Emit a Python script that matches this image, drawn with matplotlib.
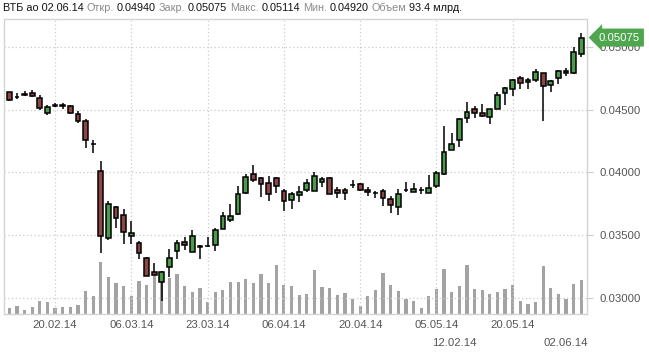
import matplotlib
matplotlib.use("Agg")
import matplotlib.pyplot as plt
from matplotlib.patches import Rectangle

plt.rcParams['font.family'] = ['Liberation Sans', 'DejaVu Sans']

# ---- data ----
opens = [0.04638, 0.04600, 0.04619, 0.04633, 0.04590, 0.04471, 0.04531, 0.04533, 0.04527, 0.04463,
         0.04407, 0.04224, 0.04008, 0.03473, 0.03723, 0.03659, 0.03494, 0.03436, 0.03317, 0.03202,
         0.03122, 0.03247, 0.03370, 0.03442, 0.03367, 0.03408, 0.03411, 0.03423, 0.03550, 0.03622,
         0.03664, 0.03837, 0.03984, 0.03952, 0.03912, 0.03952, 0.03848, 0.03781, 0.03821, 0.03861,
         0.03853, 0.03925, 0.03952, 0.03856, 0.03856, 0.03895, 0.03904, 0.03856, 0.03838, 0.03848,
         0.03785, 0.03726, 0.03860, 0.03845, 0.03860, 0.03837, 0.03893, 0.03989, 0.04180, 0.04255,
         0.04436, 0.04507, 0.04471, 0.04439, 0.04503, 0.04630, 0.04662, 0.04750, 0.04718, 0.04739,
         0.04790, 0.04694, 0.04750, 0.04806, 0.04795, 0.04940]
highs = [0.04643, 0.04630, 0.04651, 0.04654, 0.04614, 0.04535, 0.04555, 0.04550, 0.04535, 0.04487,
         0.04423, 0.04255, 0.04093, 0.03773, 0.03731, 0.03705, 0.03611, 0.03454, 0.03322, 0.03279,
         0.03212, 0.03388, 0.03460, 0.03484, 0.03537, 0.03420, 0.03481, 0.03553, 0.03683, 0.03747,
         0.03891, 0.03986, 0.04058, 0.03960, 0.03968, 0.03960, 0.03864, 0.03840, 0.03888, 0.03949,
         0.04000, 0.03960, 0.03960, 0.03880, 0.03872, 0.03936, 0.03912, 0.03880, 0.03853, 0.03864,
         0.03813, 0.03864, 0.03922, 0.03912, 0.03880, 0.03978, 0.04008, 0.04369, 0.04314, 0.04430,
         0.04559, 0.04527, 0.04545, 0.04506, 0.04641, 0.04678, 0.04742, 0.04766, 0.04750, 0.04822,
         0.04795, 0.04734, 0.04814, 0.04830, 0.04997, 0.05114]
lows = [0.04566, 0.04587, 0.04609, 0.04598, 0.04495, 0.04455, 0.04521, 0.04503, 0.04463, 0.04396,
        0.04196, 0.04156, 0.03359, 0.03462, 0.03558, 0.03428, 0.03426, 0.03311, 0.03172, 0.03183,
        0.02975, 0.03167, 0.03308, 0.03378, 0.03364, 0.03311, 0.03402, 0.03374, 0.03545, 0.03606,
        0.03659, 0.03824, 0.03920, 0.03803, 0.03773, 0.03837, 0.03694, 0.03710, 0.03765, 0.03845,
        0.03853, 0.03880, 0.03824, 0.03797, 0.03781, 0.03877, 0.03848, 0.03813, 0.03797, 0.03734,
        0.03678, 0.03662, 0.03845, 0.03845, 0.03829, 0.03837, 0.03877, 0.03976, 0.04176, 0.04202,
        0.04396, 0.04436, 0.04439, 0.04388, 0.04503, 0.04539, 0.04611, 0.04667, 0.04667, 0.04723,
        0.04407, 0.04638, 0.04704, 0.04766, 0.04787, 0.04920]
closes = [0.04574, 0.04597, 0.04620, 0.04606, 0.04511, 0.04519, 0.04533, 0.04531, 0.04471, 0.04407,
          0.04255, 0.04222, 0.03492, 0.03744, 0.03633, 0.03526, 0.03515, 0.03359, 0.03175, 0.03183,
          0.03202, 0.03314, 0.03434, 0.03423, 0.03489, 0.03406, 0.03413, 0.03537, 0.03649, 0.03649,
          0.03824, 0.03960, 0.03941, 0.03904, 0.03829, 0.03888, 0.03773, 0.03824, 0.03840, 0.03912,
          0.03968, 0.03944, 0.03824, 0.03837, 0.03837, 0.03897, 0.03856, 0.03840, 0.03836, 0.03797,
          0.03742, 0.03824, 0.03862, 0.03864, 0.03862, 0.03872, 0.03992, 0.04160, 0.04223, 0.04423,
          0.04484, 0.04471, 0.04447, 0.04503, 0.04614, 0.04670, 0.04734, 0.04710, 0.04734, 0.04798,
          0.04686, 0.04726, 0.04806, 0.04790, 0.04958, 0.05075]
volumes = [15.3, 20.9, 9.8, 18.1, 34.9, 32.1, 15.3, 18.1, 18.1, 23.7,
           62.8, 48.8, 143.7, 101.8, 85.1, 76.7, 48.8, 90.7, 79.5, 107.4,
           118.6, 99.0, 110.2, 76.7, 60.0, 71.1, 32.1, 60.0, 65.6, 87.9,
           87.9, 96.3, 85.1, 110.2, 85.1, 135.3, 79.5, 76.7, 51.6, 54.4,
           121.4, 73.9, 71.1, 51.6, 57.2, 40.5, 21.8, 48.8, 65.6, 113.0,
           79.5, 62.8, 40.5, 34.9, 15.3, 48.8, 68.4, 124.2, 60.0, 76.7,
           135.3, 68.4, 65.6, 54.4, 60.0, 68.4, 79.5, 34.9, 26.5, 32.1,
           132.5, 71.1, 54.4, 40.5, 82.3, 93.4]

tick_idx = [6, 16, 26, 36, 46, 56, 66]
tick_labels = ['20.02.14', '06.03.14', '23.03.14', '06.04.14', '20.04.14', '05.05.14', '20.05.14']
extra_labels = ['12.02.14', '02.06.14']
extra_idx = [58.4, 72.9]
price_ticks = [0.030, 0.035, 0.040, 0.045, 0.050]

title_parts = [("ВТБ ао 02.06.14", 'k'), ("Откр.", 'g'), ("0.04940", 'k'), ("Закр.", 'g'),
               ("0.05075", 'k'), ("Макс.", 'g'), ("0.05114", 'k'), ("Мин.", 'g'),
               ("0.04920", 'k'), ("Объем", 'g'), ("93.4 млрд.", 'k')]

# ---- figure ----
W, H = 649, 352
fig = plt.figure(figsize=(W / 100, H / 100), dpi=100)
left_px, right_px, top_px, bot_px = 3.5, 587, 19.3, 313.5
ax = fig.add_axes([left_px / W, 1 - bot_px / H, (right_px - left_px) / W, (bot_px - top_px) / H])
axv = ax.twinx()
ax.set_zorder(axv.get_zorder() + 1)
ax.patch.set_visible(False)

n = len(closes)
xs = list(range(n))

# volume
axv.bar(xs, volumes, width=0.42, color='#a3a3a3', zorder=1)
axv.set_ylim(0, 820.8)
axv.set_yticks([])
for s in axv.spines.values():
    s.set_visible(False)

GREEN = '#4d9a4d'
RED = '#8c4646'
bw = 0.62
for i in xs:
    o, h, l, c = opens[i], highs[i], lows[i], closes[i]
    ax.plot([i, i], [l, h], color='black', lw=1.1, zorder=3, solid_capstyle='butt')
    lo = min(o, c)
    hh = max(abs(c - o), 0.00002)
    if abs(c - o) < 0.00004:
        col = '#222222'
    else:
        col = GREEN if c >= o else RED
    ax.add_patch(Rectangle((i - bw / 2, lo), bw, hh, facecolor=col, edgecolor='black',
                           lw=1.1, zorder=4))

ax.set_xlim(-0.76, 75.74)
ax.set_ylim(0.028734, 0.052207)

ax.set_yticks(price_ticks)
ax.set_yticklabels([f"{t:.5f}" for t in price_ticks])
ax.yaxis.tick_right()
ax.tick_params(axis='y', length=4, color='#cccccc', labelsize=8.2, labelcolor='#555555', pad=5)
ax.set_xticks(tick_idx)
ax.set_xticklabels(tick_labels)
ax.tick_params(axis='x', length=0, labelsize=8.2, labelcolor='#555555', pad=5)
ax.grid(True, color='#cccccc', linestyle=(0, (1, 2)), lw=0.9)
ax.set_axisbelow(True)
for name, s in ax.spines.items():
    s.set_color('#d4d4d4')
    s.set_linewidth(1.0)

for lab, xi in zip(extra_labels, extra_idx):
    ax.text(xi, -0.1, lab, transform=ax.get_xaxis_transform(), ha='center', va='center',
            fontsize=8.2, color='#555555')

# price tag
ax.annotate(f"{closes[-1]:.5f}", xy=(1, closes[-1]), xycoords=('axes fraction', 'data'),
            xytext=(8.5, 0), textcoords='offset points', va='center', ha='left',
            fontsize=8.2, color='white',
            bbox=dict(boxstyle='larrow,pad=0.35', fc='#4ea64e', ec='none'), zorder=10,
            annotation_clip=False)

# title
fig.canvas.draw()
r = fig.canvas.get_renderer()
x = 3.0 / W
for k, (txt, c) in enumerate(title_parts):
    t = fig.text(x, 1 - 8.0 / H, txt, ha='left', va='center', fontsize=7.8,
                 color='#111111' if c == 'k' else '#8a8a8a')
    bb = t.get_window_extent(renderer=r)
    x = (bb.x1 + 2.8) / W

fig.savefig('out.png', dpi=100)
